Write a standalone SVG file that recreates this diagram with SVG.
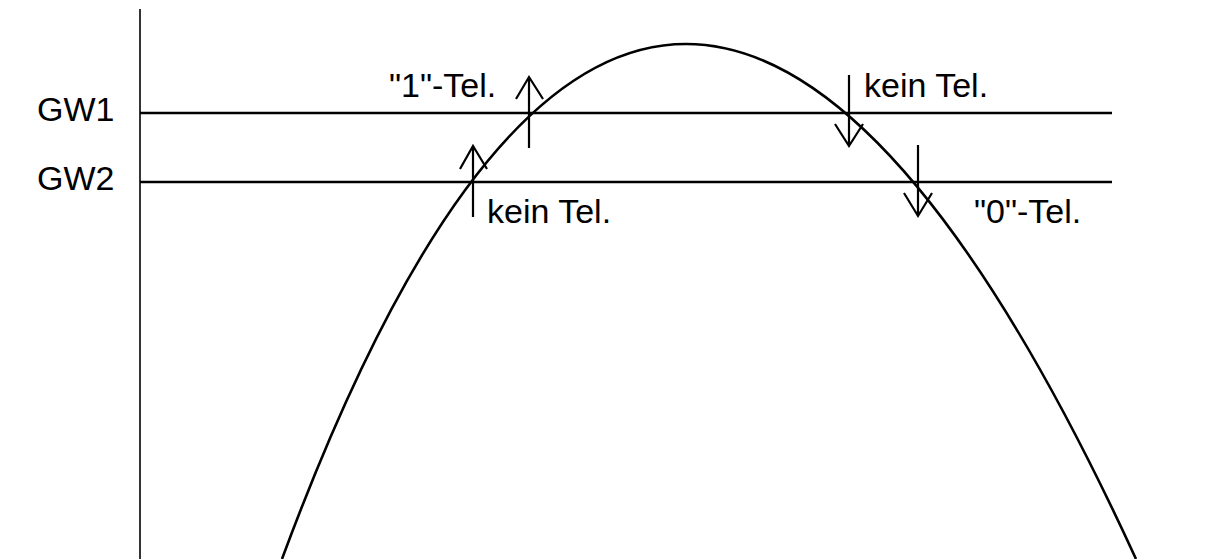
<svg xmlns="http://www.w3.org/2000/svg" width="1206" height="559" viewBox="0 0 1206 559">
<style>
.t{font-family:"Liberation Sans",Arial,sans-serif;font-size:34px;fill:#000}
.ln{stroke:#000;fill:none;stroke-width:2.6}
.ar{stroke:#000;fill:none;stroke-width:2.2}
</style>
<rect width="1206" height="559" fill="#fff"/>
<g id="axes">
<line x1="140" y1="9" x2="140" y2="559" stroke="#000" stroke-width="1.6"/>
</g>
<g id="gw1">
<line class="ln" x1="140" y1="113" x2="1112" y2="113"/>
<text class="t" x="37" y="121">GW1</text>
</g>
<g id="gw2">
<line class="ln" x1="140" y1="182" x2="1112" y2="182"/>
<text class="t" x="37" y="190">GW2</text>
</g>
<g id="curve">
<path class="ln" d="M282,559 Q663,-471 1136,559"/>
</g>
<g id="connectors">
<path class="ar" d="M529,148 V77 M516,99 L529,77 L543,99"/>
<path class="ar" d="M473,217 V146 M460,169 L473,146 L487,169"/>
<path class="ar" d="M849,75 V146 M835,124 L849,146 L863,124"/>
<path class="ar" d="M918,145 V216 M904,193 L918,216 L932,193"/>
</g>
<g id="labels">
<text class="t" x="389" y="97">"1"-Tel.</text>
<text class="t" x="487" y="223">kein Tel.</text>
<text class="t" x="864" y="97">kein Tel.</text>
<text class="t" x="974" y="223">"0"-Tel.</text>
</g>
</svg>
